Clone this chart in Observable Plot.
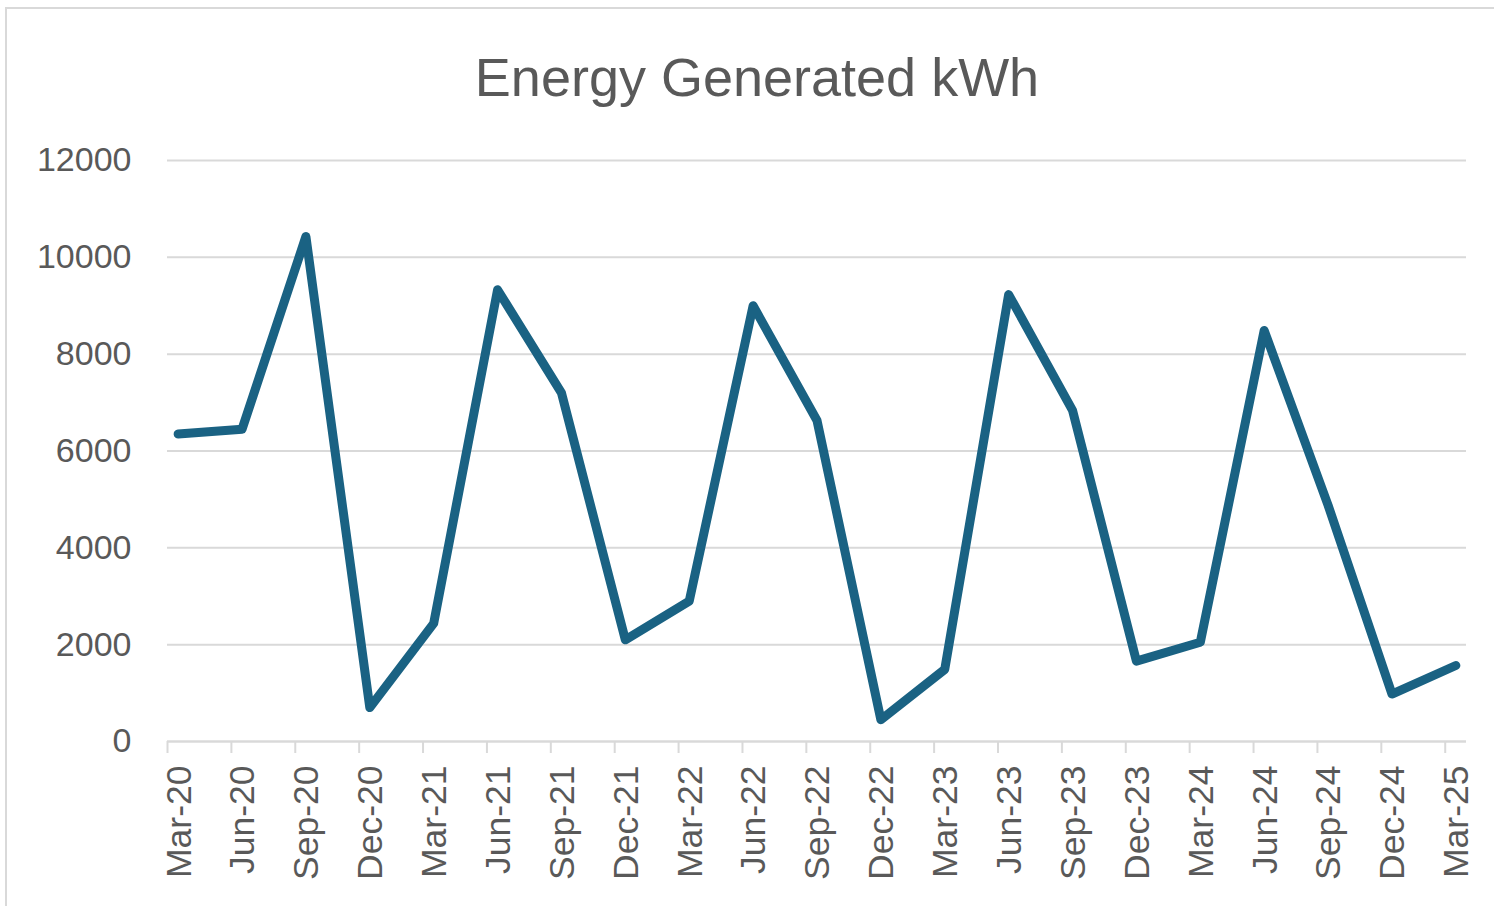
<!DOCTYPE html>
<html>
<head>
<meta charset="utf-8">
<script src="https://cdn.jsdelivr.net/npm/d3@7"></script>
<script src="https://cdn.jsdelivr.net/npm/@observablehq/plot@0.6"></script>
<style>
html, body { margin: 0; padding: 0; background: #fff; }
#wrap { position: relative; width: 1494px; height: 906px; overflow: hidden; }
#frame { position: absolute; left: 5px; top: 7px; width: 1700px; height: 1100px;
  border-left: 2px solid #d9d9d9; border-top: 2px solid #d9d9d9; }
#title { position: absolute; left: 0; top: 50px; width: 1514px; text-align: center;
  font-family: "Liberation Sans", Arial, sans-serif; font-size: 54px; line-height: 54px; color: #595959; }
#chart { position: absolute; left: 0; top: 0; }
</style>
</head>
<body>
<div id="wrap">
  <div id="frame"></div>
  <div id="title">Energy Generated kWh</div>
  <div id="chart"></div>
</div>
<script>
// Quarterly categories (month slots on a monthly date axis)
const labels = ["Mar-20","Jun-20","Sep-20","Dec-20","Mar-21","Jun-21","Sep-21","Dec-21",
  "Mar-22","Jun-22","Sep-22","Dec-22","Mar-23","Jun-23","Sep-23","Dec-23",
  "Mar-24","Jun-24","Sep-24","Dec-24","Mar-25"];
// Energy generated (kWh)
const values = [6350, 6450, 10430, 700, 2440, 9330, 7200, 2100,
  2900, 9000, 6630, 450, 1490, 9230, 6840, 1660,
  2050, 8490, 4880, 980, 1570];
// Month index of each category (months since Mar-20)
const monthIndex = labels.map((_, i) => i * 3);
const yTicks = [0, 2000, 4000, 6000, 8000, 10000, 12000];
const monthCount = 61;

const data = labels.map((label, i) => ({ label, month: monthIndex[i] + 0.5, value: values[i] }));

const chart = Plot.plot({
  width: 1494,
  height: 906,
  marginLeft: 167,
  marginRight: 28,
  marginTop: 160,
  marginBottom: 165,
  x: { domain: [0, monthCount] },
  y: { domain: [0, 12000] },
  style: { fontFamily: "Liberation Sans, Arial, sans-serif", background: "transparent", overflow: "visible" },
  marks: [
    Plot.gridY(yTicks, { stroke: "#d9d9d9", strokeOpacity: 1, strokeWidth: 2 }),
    Plot.axisY(yTicks, { tickSize: 0, tickPadding: 36, fontSize: 34, fill: "#595959", label: null,
      tickFormat: d => String(d) }),
    Plot.ruleY([0], { stroke: "#d9d9d9", strokeWidth: 2 }),
    Plot.axisX(monthIndex, { tickSize: 12, tickFormat: () => "", stroke: "#d9d9d9", strokeWidth: 2, label: null }),
    Plot.line(data, { x: "month", y: "value", stroke: "#1a6283", strokeWidth: 9,
      strokeLinejoin: "round", strokeLinecap: "round" }),
    Plot.text(data, { x: "month", text: "label", frameAnchor: "bottom", rotate: -90,
      textAnchor: "end", lineAnchor: "middle", dy: 24, dx: 1, fontSize: 35.5, fill: "#595959" })
  ]
});
document.getElementById("chart").appendChild(chart);
</script>
</body>
</html>
